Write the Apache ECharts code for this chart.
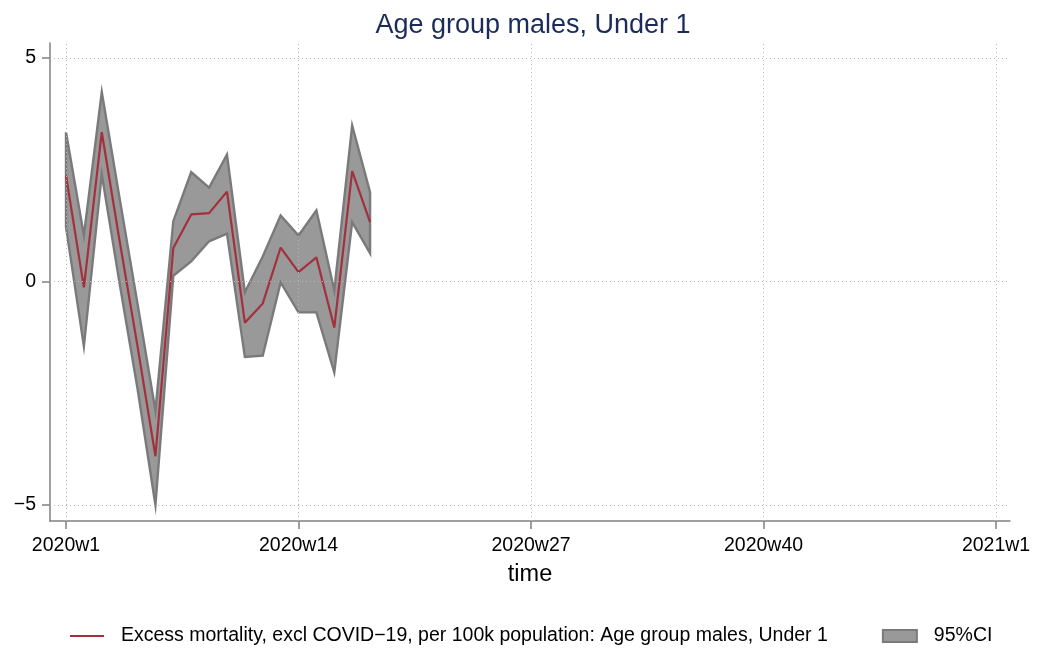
<!DOCTYPE html>
<html>
<head>
<meta charset="utf-8">
<script src="https://cdn.jsdelivr.net/npm/echarts@6/dist/echarts.min.js"></script>
<style>
html,body{margin:0;padding:0;background:#fff;}
#chart{width:1038px;height:648px;}
</style>
</head>
<body>
<div id="chart"></div>
<script>
// ---- data ----
var titleText = 'Age group males, Under 1';
var lineName = 'Excess mortality, excl COVID\u221219, per 100k population: Age group males, Under 1';
var ciName = '95%CI';
var weeks = [1,2,3,4,5,6,7,8,9,10,11,12,13,14,15,16,17,18]; // 2020 week numbers
var excess = [2.37, -0.13, 3.34, 0.90, -1.45, -3.91, 0.75, 1.50, 1.53, 2.01, -0.92, -0.49, 0.76, 0.21, 0.54, -1.03, 2.47, 1.33];
var upper  = [3.34, 1.03, 4.24, 1.85, -0.50, -2.89, 1.35, 2.45, 2.10, 2.84, -0.24, 0.56, 1.48, 1.03, 1.59, -0.20, 3.49, 2.00];
var lower  = [1.22, -1.45, 2.40, -0.05, -2.40, -5.00, 0.13, 0.45, 0.90, 1.07, -1.69, -1.66, -0.02, -0.69, -0.69, -2.03, 1.33, 0.63];
var xTickValues = [0, 13, 26, 39, 52];
var xTickLabels = ['2020w1', '2020w14', '2020w27', '2020w40', '2021w1'];
var yTickValues = [-5, 0, 5];

// ---- build ----
var xs = weeks.map(function (w) { return w - 1; });
var lineData = xs.map(function (x, i) { return [x, excess[i]]; });
var bandData = xs.map(function (x, i) { return [x, lower[i], upper[i]]; });
var xLabelMap = {};
xTickValues.forEach(function (v, i) { xLabelMap[v] = xTickLabels[i]; });

var gridMarks = xTickValues.map(function (v) { return { xAxis: v }; })
  .concat(yTickValues.map(function (v) { return { yAxis: v }; }));

var font = '"Liberation Sans", Arial, Helvetica, sans-serif';
var chart = echarts.init(document.getElementById('chart'), null, { renderer: 'canvas' });

chart.setOption({
  animation: false,
  backgroundColor: '#ffffff',
  title: {
    text: titleText,
    left: 528,
    textAlign: 'center',
    top: 7,
    textStyle: { color: '#1c2b5a', fontSize: 27, fontWeight: 'normal', fontFamily: font }
  },
  grid: { left: 50, right: 28, top: 43, bottom: 127, containLabel: false },
  xAxis: {
    type: 'value',
    min: -0.895,
    max: 52.78,
    name: 'time',
    nameLocation: 'middle',
    nameGap: 42,
    nameTextStyle: { fontSize: 23.5, color: '#000', fontFamily: font },
    axisLine: { onZero: false, lineStyle: { color: '#808080', width: 1.5 } },
    axisTick: { show: true, customValues: xTickValues, length: 8, lineStyle: { color: '#808080', width: 1.5 } },
    axisLabel: {
      customValues: xTickValues,
      margin: 15,
      fontSize: 19.5,
      color: '#000',
      fontFamily: font,
      formatter: function (v) { return xLabelMap[v] || ''; }
    },
    splitLine: { show: false }
  },
  yAxis: {
    type: 'value',
    min: -5.358,
    max: 5.336,
    axisLine: { onZero: false, lineStyle: { color: '#808080', width: 1.5 } },
    axisTick: { show: true, customValues: yTickValues, length: 8, lineStyle: { color: '#808080', width: 1.5 } },
    axisLabel: {
      customValues: yTickValues,
      margin: 14,
      fontSize: 19.5,
      color: '#000',
      fontFamily: font,
      formatter: function (v) { return v < 0 ? '\u2212' + Math.abs(v) : String(v); }
    },
    splitLine: { show: false }
  },
  legend: {
    top: 621,
    left: 65,
    itemGap: 54,
    itemWidth: 34,
    itemHeight: 12,
    textStyle: { fontSize: 19.5, color: '#000', fontFamily: font, padding: [0, 0, 0, 12] },
    data: [
      { name: lineName, icon: 'path://M0,0H34V2.2H0Z', itemStyle: { color: '#a3313d' } },
      { name: ciName, icon: 'rect', itemStyle: { color: '#999999', borderColor: '#7a7a7a', borderWidth: 2 } }
    ]
  },
  series: [
    {
      name: 'grid',
      type: 'line',
      data: lineData,
      symbol: 'none',
      silent: true,
      z: 0,
      lineStyle: { opacity: 0, width: 0 },
      markLine: {
        silent: true,
        symbol: 'none',
        label: { show: false },
        animation: false,
        lineStyle: { color: '#b8b8b8', width: 1, type: [1, 3] },
        data: gridMarks
      }
    },
    {
      name: ciName,
      type: 'custom',
      z: 2,
      itemStyle: { color: '#999999', borderColor: '#7a7a7a' },
      data: bandData,
      encode: { x: 0, y: [1, 2] },
      renderItem: function (params, api) {
        if (params.dataIndex !== 0) return null;
        var pts = [];
        for (var i = 0; i < bandData.length; i++) {
          pts.push(api.coord([bandData[i][0], bandData[i][2]]));
        }
        for (var j = bandData.length - 1; j >= 0; j--) {
          pts.push(api.coord([bandData[j][0], bandData[j][1]]));
        }
        return {
          type: 'polygon',
          shape: { points: pts },
          style: { fill: '#999999', stroke: '#7a7a7a', lineWidth: 2.4, lineJoin: 'miter' }
        };
      }
    },
    {
      name: lineName,
      type: 'line',
      z: 3,
      data: lineData,
      symbol: 'none',
      lineStyle: { color: '#a3313d', width: 2.2 },
      itemStyle: { color: '#a3313d' }
    }
  ]
});
</script>
</body>
</html>
